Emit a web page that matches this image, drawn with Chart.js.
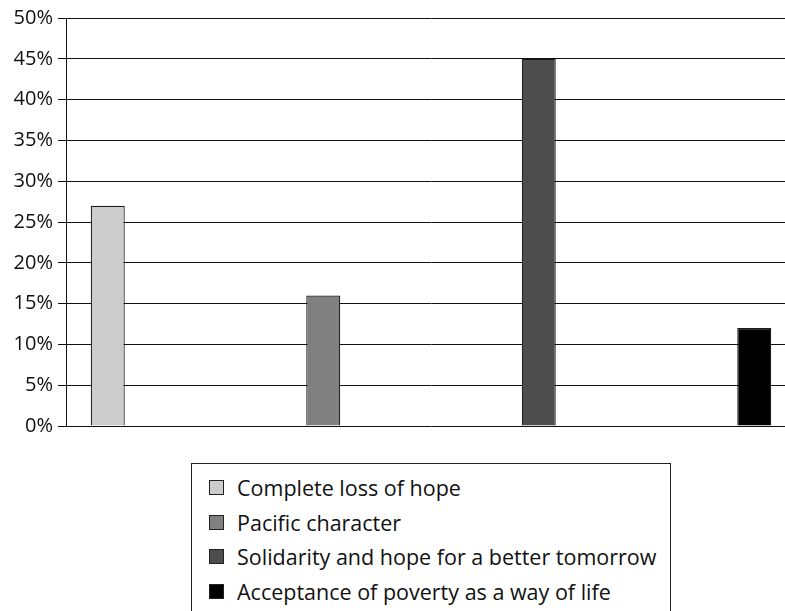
<!DOCTYPE html>
<html>
<head>
<meta charset="utf-8">
<script src="https://cdn.jsdelivr.net/npm/chart.js@4/dist/chart.umd.min.js"></script>
<style>
  html, body { margin: 0; padding: 0; background: #fff; overflow: hidden; width: 785px; height: 611px; }
  #wrap { position: absolute; left: 0; top: 0; width: 800px; height: 611px; }
  #legend {
    position: absolute; left: 191px; top: 463px; width: 480px; height: 170px;
    border: 1px solid #222; box-sizing: border-box; background: #fff;
    font-family: "Open Sans", sans-serif; font-size: 21.5px; color: #111;
  }
  #legend .row { position: absolute; left: 17px; height: 26px; display: flex; align-items: center; white-space: nowrap; }
  #legend .sw { width: 13px; height: 13px; border: 1px solid #222; margin-right: 13px; flex: none; }
</style>
</head>
<body>
<div id="wrap"><canvas id="c"></canvas></div>
<div id="legend"></div>
<script>
// Response categories and their share of answers (percent)
const categories = [
  'Complete loss of hope',
  'Pacific character',
  'Solidarity and hope for a better tomorrow',
  'Acceptance of poverty as a way of life'
];
const shares = [27, 16, 45, 12];
const fills = ['#cccccc', '#808080', '#4d4d4d', '#000000'];
const yMin = 0, yMax = 50, yStep = 5;

const FONT = '"Open Sans", sans-serif';

// one dataset per category, each with its value only in its own slot
const datasets = categories.map((name, i) => ({
  label: name,
  data: categories.map((_, j) => (j === i ? shares[i] : null)),
  backgroundColor: fills[i],
  borderColor: '#1a1a1a',
  borderWidth: 1.2,
  categoryPercentage: 0.7233,
  barPercentage: 1.03
}));

const chart = new Chart(document.getElementById('c'), {
  type: 'bar',
  data: { labels: categories, datasets },
  options: {
    responsive: true,
    maintainAspectRatio: false,
    animation: false,
    layout: { padding: { top: 18, right: 4, bottom: 185, left: 0 } },
    plugins: { legend: { display: false }, tooltip: { enabled: false } },
    scales: {
      x: {
        display: false,
        grid: { display: false }
      },
      y: {
        min: yMin, max: yMax,
        afterFit: (axis) => { axis.width = 66; },
        border: { display: true, color: '#111', width: 1 },
        grid: { color: '#111', lineWidth: 1, tickLength: 8, drawTicks: true },
        ticks: {
          stepSize: yStep,
          padding: 5,
          color: '#111',
          font: { family: FONT, size: 20 },
          callback: (v) => v + '%'
        }
      }
    }
  }
});

// boxed vertical legend built from the chart's own legend items
const items = Chart.defaults.plugins.legend.labels.generateLabels(chart);
const legend = document.getElementById('legend');
const rowTops = [10, 45, 79, 114];
items.forEach((it, k) => {
  const row = document.createElement('div');
  row.className = 'row';
  row.style.top = rowTops[k] + 'px';
  const sw = document.createElement('span');
  sw.className = 'sw';
  sw.style.background = it.fillStyle;
  const tx = document.createElement('span');
  tx.textContent = it.text;
  row.appendChild(sw);
  row.appendChild(tx);
  legend.appendChild(row);
});
</script>
</body>
</html>
